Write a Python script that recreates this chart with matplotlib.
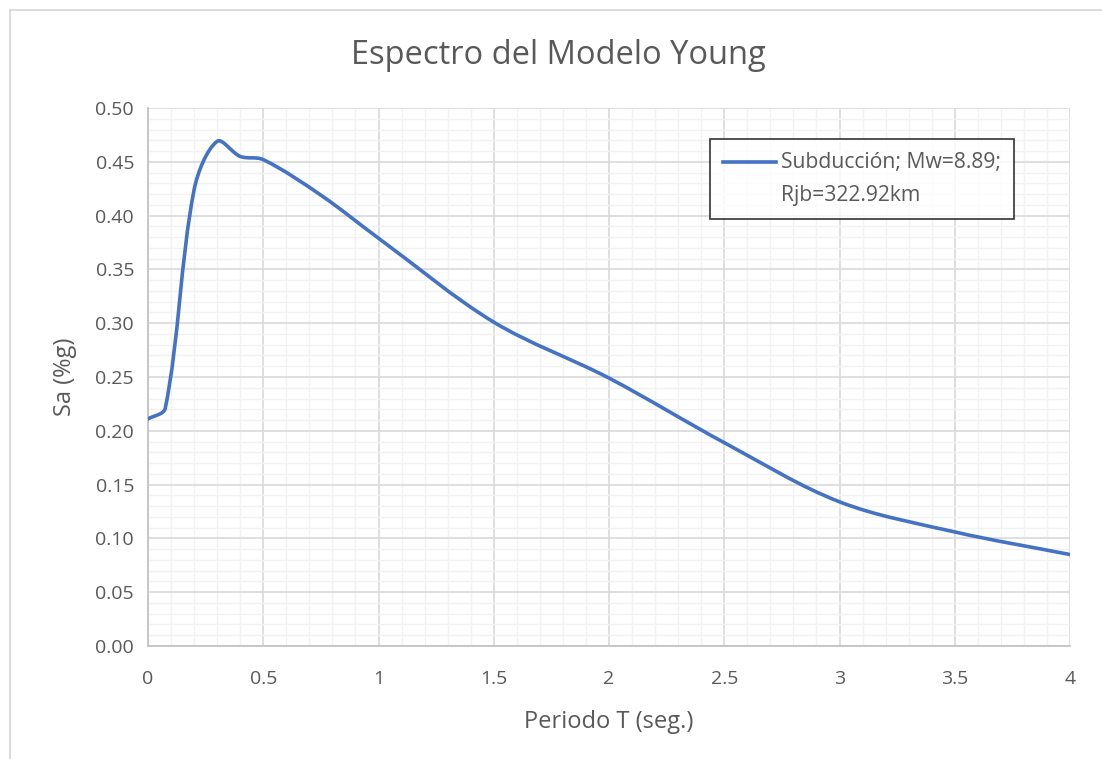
import numpy as np
import matplotlib.pyplot as plt
from matplotlib.path import Path
from matplotlib.patches import PathPatch
from matplotlib.lines import Line2D
from matplotlib.legend_handler import HandlerLine2D
from matplotlib.ticker import MultipleLocator, FixedLocator

# Datos
periodo = [0.0, 0.075, 0.2, 0.3, 0.4, 0.5, 0.75, 1.0, 1.5, 2.0, 2.5, 3.0, 3.5, 4.0]
sa = [0.211, 0.221, 0.424, 0.469, 0.455, 0.452, 0.419, 0.379, 0.301, 0.249, 0.189, 0.134, 0.106, 0.085]
etiqueta = "Subducción; Mw=8.89;\nRjb=322.92km"
xticks = [0, 0.5, 1, 1.5, 2, 2.5, 3, 3.5, 4]
xtick_labels = ["0", "0.5", "1", "1.5", "2", "2.5", "3", "3.5", "4"]
yticks = np.arange(0, 0.51, 0.05)

plt.rcParams['font.family'] = ['Open Sans', 'DejaVu Sans']
gris_texto = '#595959'
azul = '#4472C4'

fig = plt.figure(figsize=(11.02, 7.59), dpi=100)
ax = fig.add_axes([148 / 1102, 113 / 759, 922 / 1102, 538 / 759])

# curva suavizada tipo Excel: Bezier con tangentes ponderadas por longitud de tramo
pts = np.column_stack([periodo, sa])
esc = np.array([230.5, 1076.0])  # a pixeles aprox. para medir longitudes
d = np.linalg.norm(np.diff(pts * esc, axis=0), axis=1)
n = len(pts)
verts = [pts[0]]
codes = [Path.MOVETO]
for i in range(n - 1):
    p1, p2 = pts[i], pts[i + 1]
    if i == 0:
        c1 = p1 + (p2 - p1) / 3
    else:
        c1 = p1 + (p2 - pts[i - 1]) * d[i] / (d[i - 1] + d[i]) / 3
    if i + 2 >= n:
        c2 = p2 - (p2 - p1) / 3
    else:
        c2 = p2 - (pts[i + 2] - p1) * d[i] / (d[i] + d[i + 1]) / 3
    verts += [c1, c2, p2]
    codes += [Path.CURVE4] * 3
curva = PathPatch(Path(verts, codes), facecolor='none', edgecolor=azul,
                  lw=2.6, capstyle='round', joinstyle='round', zorder=3)
ax.add_patch(curva)
# linea vacia solo para la leyenda
ax.plot([], [], color=azul, lw=2.6, label=etiqueta)

ax.set_xlim(0, 4)
ax.set_ylim(0, 0.5)
ax.xaxis.set_major_locator(FixedLocator(xticks))
ax.set_xticklabels(xtick_labels)
ax.set_yticks(yticks)
ax.set_yticklabels([f"{v:.2f}" for v in yticks])
ax.xaxis.set_minor_locator(MultipleLocator(0.1))
ax.yaxis.set_minor_locator(MultipleLocator(0.01))

ax.grid(which='minor', color='#F2F2F2', lw=1.0, zorder=0)
ax.grid(which='major', color='#D9D9D9', lw=1.2, zorder=1)
ax.set_axisbelow(True)
for s in ['top', 'right']:
    ax.spines[s].set_visible(False)
for s in ['left', 'bottom']:
    ax.spines[s].set_color('#BFBFBF')
    ax.spines[s].set_linewidth(1.2)

ax.tick_params(which='both', length=0, labelsize=14, colors=gris_texto)
ax.tick_params(axis='x', pad=17)
ax.tick_params(axis='y', pad=10)

ax.set_xlabel("Periodo T (seg.)", fontsize=17, color=gris_texto, labelpad=16)
ax.set_ylabel("Sa (%g)", fontsize=17, color=gris_texto, labelpad=13)
fig.text(558 / 1102, 1 - 55 / 759, "Espectro del Modelo Young", fontsize=23.5,
         color=gris_texto, ha='center', va='center')


class HandlerArriba(HandlerLine2D):
    # la muestra de linea queda a la altura de la primera linea de texto
    def create_artists(self, legend, orig_handle, xdescent, ydescent, width,
                       height, fontsize, trans):
        arts = super().create_artists(legend, orig_handle, xdescent, ydescent,
                                      width, height, fontsize, trans)
        for a in arts:
            a.set_ydata(np.asarray(a.get_ydata()) + 0.84 * fontsize)
        return arts


leg = ax.legend(loc='upper left', bbox_to_anchor=(0.6096, 0.9424), fontsize=15.2,
                frameon=True, fancybox=False, borderpad=0.62, handlelength=2.5,
                handletextpad=0.22, borderaxespad=0,
                handler_map={Line2D: HandlerArriba()})
leg.get_frame().set_edgecolor('black')
leg.get_frame().set_linewidth(1.2)
for t in leg.get_texts():
    t.set_color(gris_texto)
    t.set_linespacing(1.77)

# borde del área del gráfico
fig.add_artist(Line2D([9.5 / 1102, 9.5 / 1102], [0, 1 - 9.5 / 759], color='#D9D9D9', lw=1.3))
fig.add_artist(Line2D([9.5 / 1102, 1], [1 - 9.5 / 759, 1 - 9.5 / 759], color='#D9D9D9', lw=1.3))

fig.savefig("out.png", dpi=100)
